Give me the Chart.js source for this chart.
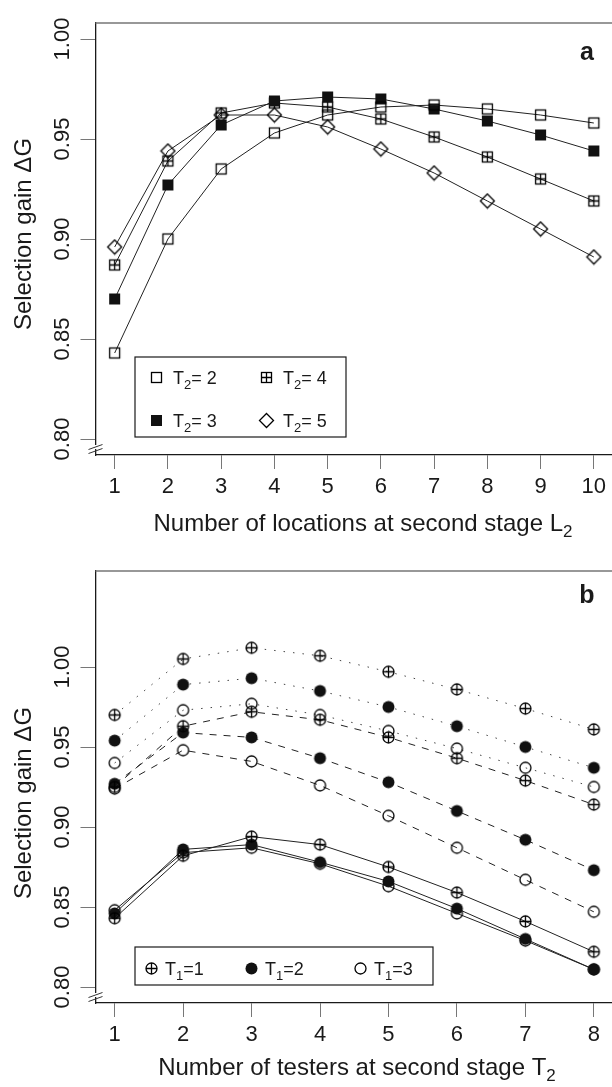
<!DOCTYPE html>
<html>
<head>
<meta charset="utf-8">
<script src="https://cdn.jsdelivr.net/npm/chart.js@4/dist/chart.umd.min.js"></script>
<style>
  html, body { margin: 0; padding: 0; background: #fff; overflow: hidden; }
  #wrap { position: relative; width: 612px; height: 1087px; overflow: hidden; }
  canvas { position: absolute; left: 0; }
  #chartA { top: 0; }
  #chartB { top: 548px; }
</style>
</head>
<body>
<div id="wrap">
  <canvas id="chartA" width="620" height="548"></canvas>
  <canvas id="chartB" width="620" height="539"></canvas>
</div>
<script>
// panel a: gain vs number of locations, one line per T2
const locations = [1, 2, 3, 4, 5, 6, 7, 8, 9, 10];
const gainT2is2 = [0.843, 0.900, 0.935, 0.953, 0.962, 0.966, 0.967, 0.965, 0.962, 0.958];
const gainT2is3 = [0.870, 0.927, 0.957, 0.969, 0.971, 0.970, 0.965, 0.959, 0.952, 0.944];
const gainT2is4 = [0.887, 0.939, 0.963, 0.968, 0.966, 0.960, 0.951, 0.941, 0.930, 0.919];
const gainT2is5 = [0.896, 0.944, 0.962, 0.962, 0.956, 0.945, 0.933, 0.919, 0.905, 0.891];
const yTicksA = [0.80, 0.85, 0.90, 0.95, 1.00];

// panel b: gain vs number of testers, dotted / dashed / solid groups, one per T1
const testers = [1, 2, 3, 4, 5, 6, 7, 8];
const dottedT1is1 = [0.970, 1.005, 1.012, 1.007, 0.997, 0.986, 0.974, 0.961];
const dottedT1is2 = [0.954, 0.989, 0.993, 0.985, 0.975, 0.963, 0.950, 0.937];
const dottedT1is3 = [0.940, 0.973, 0.977, 0.970, 0.960, 0.949, 0.937, 0.925];
const dashedT1is1 = [0.925, 0.963, 0.972, 0.967, 0.956, 0.943, 0.929, 0.914];
const dashedT1is2 = [0.927, 0.959, 0.956, 0.943, 0.928, 0.910, 0.892, 0.873];
const dashedT1is3 = [0.924, 0.948, 0.941, 0.926, 0.907, 0.887, 0.867, 0.847];
const solidT1is1 = [0.843, 0.882, 0.894, 0.889, 0.875, 0.859, 0.841, 0.822];
const solidT1is2 = [0.846, 0.886, 0.889, 0.878, 0.866, 0.849, 0.830, 0.811];
const solidT1is3 = [0.848, 0.884, 0.887, 0.877, 0.863, 0.846, 0.829, 0.811];
const yTicksB = [0.80, 0.85, 0.90, 0.95, 1.00];

const FONT = '"Liberation Sans", Arial, Helvetica, sans-serif';
const INK = '#1a1a1a';
Chart.defaults.font.family = FONT;

// point symbols as small canvases (R pch look-alikes)
function symbol(kind) {
    const c = document.createElement('canvas');
    c.width = 17; c.height = 17;
    const g = c.getContext('2d');
    g.strokeStyle = '#000'; g.fillStyle = '#111'; g.lineWidth = 1.3;
    if (kind === 'square' || kind === 'boxplus') {
        g.strokeRect(3.5, 3.5, 10, 10);
    }
    if (kind === 'fsquare') {
        g.fillRect(3, 3, 11, 11);
    }
    if (kind === 'diamond') {
        g.beginPath();
        g.moveTo(8.5, 1.5); g.lineTo(15.5, 8.5); g.lineTo(8.5, 15.5); g.lineTo(1.5, 8.5);
        g.closePath(); g.stroke();
    }
    if (kind === 'circle' || kind === 'oplus') {
        g.beginPath(); g.arc(8.5, 8.5, 5.5, 0, Math.PI * 2); g.stroke();
    }
    if (kind === 'fcircle') {
        g.beginPath(); g.arc(8.5, 8.5, 6, 0, Math.PI * 2); g.fill();
    }
    if (kind === 'boxplus' || kind === 'oplus') {
        g.beginPath();
        g.moveTo(8.5, 3); g.lineTo(8.5, 14);
        g.moveTo(3, 8.5); g.lineTo(14, 8.5);
        g.stroke();
    }
    return c;
}

const sym = {
    square: symbol('square'),
    fsquare: symbol('fsquare'),
    boxplus: symbol('boxplus'),
    diamond: symbol('diamond'),
    oplus: symbol('oplus'),
    fcircle: symbol('fcircle'),
    circle: symbol('circle')
};

function series(xs, ys, img, dash, color) {
    return {
        data: xs.map((x, i) => ({ x: x, y: ys[i] })),
        borderColor: color || '#222',
        borderWidth: 1,
        borderDash: dash || [],
        pointStyle: img,
        pointRadius: 6,
        pointHoverRadius: 6,
        fill: false,
        tension: 0
    };
}

// draw a run of [text, size, dy] pieces
function drawRich(ctx, parts, x, y, align) {
    let w = 0;
    parts.forEach(p => { ctx.font = p[1] + 'px ' + FONT; w += ctx.measureText(p[0]).width; });
    let cx = align === 'center' ? x - w / 2 : x;
    ctx.textAlign = 'left';
    parts.forEach(p => {
        ctx.font = p[1] + 'px ' + FONT;
        ctx.fillText(p[0], cx, y + (p[2] || 0));
        cx += ctx.measureText(p[0]).width;
    });
}

const decor = {
    id: 'decor',
    afterDraw(chart, args, o) {
        const { ctx, chartArea: a, scales: { y } } = chart;
        ctx.save();

        // box top and right
        ctx.strokeStyle = '#777';
        ctx.lineWidth = 1.5;
        ctx.beginPath();
        ctx.moveTo(a.left, a.top);
        ctx.lineTo(a.right, a.top);
        ctx.lineTo(a.right, a.bottom);
        ctx.stroke();

        // axis break marks
        ctx.fillStyle = '#fff';
        ctx.fillRect(a.left - 2, a.bottom - 10, 4, 4);
        ctx.strokeStyle = '#333';
        ctx.lineWidth = 1;
        ctx.beginPath();
        ctx.moveTo(a.left - 7, a.bottom - 5.5); ctx.lineTo(a.left + 7, a.bottom - 10.5);
        ctx.moveTo(a.left - 7, a.bottom - 1.5); ctx.lineTo(a.left + 7, a.bottom - 6.5);
        ctx.stroke();

        ctx.fillStyle = INK;
        ctx.textBaseline = 'middle';

        // y tick labels, rotated like R
        ctx.font = '22px ' + FONT;
        ctx.textAlign = 'center';
        o.yTicks.forEach(v => {
            ctx.save();
            ctx.translate(62.5, y.getPixelForValue(v));
            ctx.rotate(-Math.PI / 2);
            ctx.fillText(v.toFixed(2), 0, 0);
            ctx.restore();
        });

        // y title
        ctx.textBaseline = 'alphabetic';
        ctx.save();
        ctx.translate(30.5, o.yTitleMid);
        ctx.rotate(-Math.PI / 2);
        drawRich(ctx, [['Selection gain \u0394G', 24]], 0, 0, 'center');
        ctx.restore();

        // x title with subscript
        drawRich(ctx, o.xTitle, o.xTitleMid, o.xTitleBase, 'center');

        // panel letter
        ctx.font = 'bold 25px ' + FONT;
        ctx.textAlign = 'center';
        ctx.fillText(o.letter, 587, o.letterBase);

        // legend
        const L = o.legend;
        ctx.strokeStyle = INK;
        ctx.lineWidth = 1.2;
        ctx.strokeRect(L.box[0], L.box[1], L.box[2] - L.box[0], L.box[3] - L.box[1]);
        L.items.forEach(it => {
            ctx.drawImage(it.img, it.sx - 8.5, it.y - 8.5);
            drawRich(ctx, it.text, it.tx, it.y + 6.5, 'left');
        });

        ctx.restore();
    }
};

function makeOptions(xMin, xMax, yMin, yMax, xTicks, axisHeight, decorOpts) {
    return {
        responsive: false,
        animation: false,
        devicePixelRatio: 1,
        layout: { padding: { top: 23, right: 5, left: 0, bottom: 0 } },
        plugins: { legend: { display: false }, tooltip: { enabled: false }, decor: decorOpts },
        scales: {
            x: {
                type: 'linear',
                min: xMin, max: xMax,
                afterBuildTicks: s => { s.ticks = xTicks.map(v => ({ value: v })); },
                afterFit: s => { s.height = axisHeight; },
                grid: { drawOnChartArea: false, drawTicks: true, tickLength: 14, color: '#777' },
                border: { display: true, color: INK, width: 1.3 },
                ticks: { font: { size: 22 }, color: INK, padding: 5, maxRotation: 0, autoSkip: false }
            },
            y: {
                type: 'linear',
                min: yMin, max: yMax,
                afterBuildTicks: s => { s.ticks = decorOpts.yTicks.map(v => ({ value: v })); },
                afterFit: s => { s.width = 95.5; },
                grid: { drawOnChartArea: false, drawTicks: true, tickLength: 15, color: '#777' },
                border: { display: true, color: INK, width: 1.3 },
                ticks: { display: false }
            }
        }
    };
}

new Chart(document.getElementById('chartA'), {
    type: 'line',
    data: {
        datasets: [
            series(locations, gainT2is2, sym.square),
            series(locations, gainT2is3, sym.fsquare),
            series(locations, gainT2is4, sym.boxplus),
            series(locations, gainT2is5, sym.diamond)
        ]
    },
    options: makeOptions(0.64, 10.36, 0.792, 1.008, locations, 93, {
        yTicks: yTicksA,
        yTitleMid: 234,
        xTitle: [['Number of locations at second stage L', 24], ['2', 17, 6]],
        xTitleMid: 363,
        xTitleBase: 530.5,
        letter: 'a',
        letterBase: 60,
        legend: {
            box: [135, 357, 346, 437],
            items: [
                { img: sym.square, sx: 156.5, tx: 173, y: 377.5, text: [['T', 18], ['2', 13, 5], ['= 2', 18]] },
                { img: sym.boxplus, sx: 266.5, tx: 283, y: 377.5, text: [['T', 18], ['2', 13, 5], ['= 4', 18]] },
                { img: sym.fsquare, sx: 156.5, tx: 173, y: 420.5, text: [['T', 18], ['2', 13, 5], ['= 3', 18]] },
                { img: sym.diamond, sx: 266.5, tx: 283, y: 420.5, text: [['T', 18], ['2', 13, 5], ['= 5', 18]] }
            ]
        }
    }),
    plugins: [decor]
});

new Chart(document.getElementById('chartB'), {
    type: 'line',
    data: {
        datasets: [
            series(testers, dottedT1is1, sym.oplus, [1.5, 8], '#444'),
            series(testers, dottedT1is2, sym.fcircle, [1.5, 8], '#444'),
            series(testers, dottedT1is3, sym.circle, [1.5, 8], '#444'),
            series(testers, dashedT1is1, sym.oplus, [7, 7]),
            series(testers, dashedT1is2, sym.fcircle, [7, 7]),
            series(testers, dashedT1is3, sym.circle, [7, 7]),
            series(testers, solidT1is1, sym.oplus),
            series(testers, solidT1is2, sym.fcircle),
            series(testers, solidT1is3, sym.circle)
        ]
    },
    options: makeOptions(0.72, 8.28, 0.79, 1.06, testers, 84, {
        yTicks: yTicksB,
        yTitleMid: 255,
        xTitle: [['Number of testers at second stage T', 24], ['2', 17, 6]],
        xTitleMid: 357,
        xTitleBase: 527,
        letter: 'b',
        letterBase: 55,
        legend: {
            box: [135, 399, 433, 437],
            items: [
                { img: sym.oplus, sx: 151.5, tx: 165, y: 420.5, text: [['T', 18], ['1', 13, 5], ['=1', 18]] },
                { img: sym.fcircle, sx: 251.5, tx: 265, y: 420.5, text: [['T', 18], ['1', 13, 5], ['=2', 18]] },
                { img: sym.circle, sx: 360.5, tx: 374, y: 420.5, text: [['T', 18], ['1', 13, 5], ['=3', 18]] }
            ]
        }
    }),
    plugins: [decor]
});
</script>
</body>
</html>
